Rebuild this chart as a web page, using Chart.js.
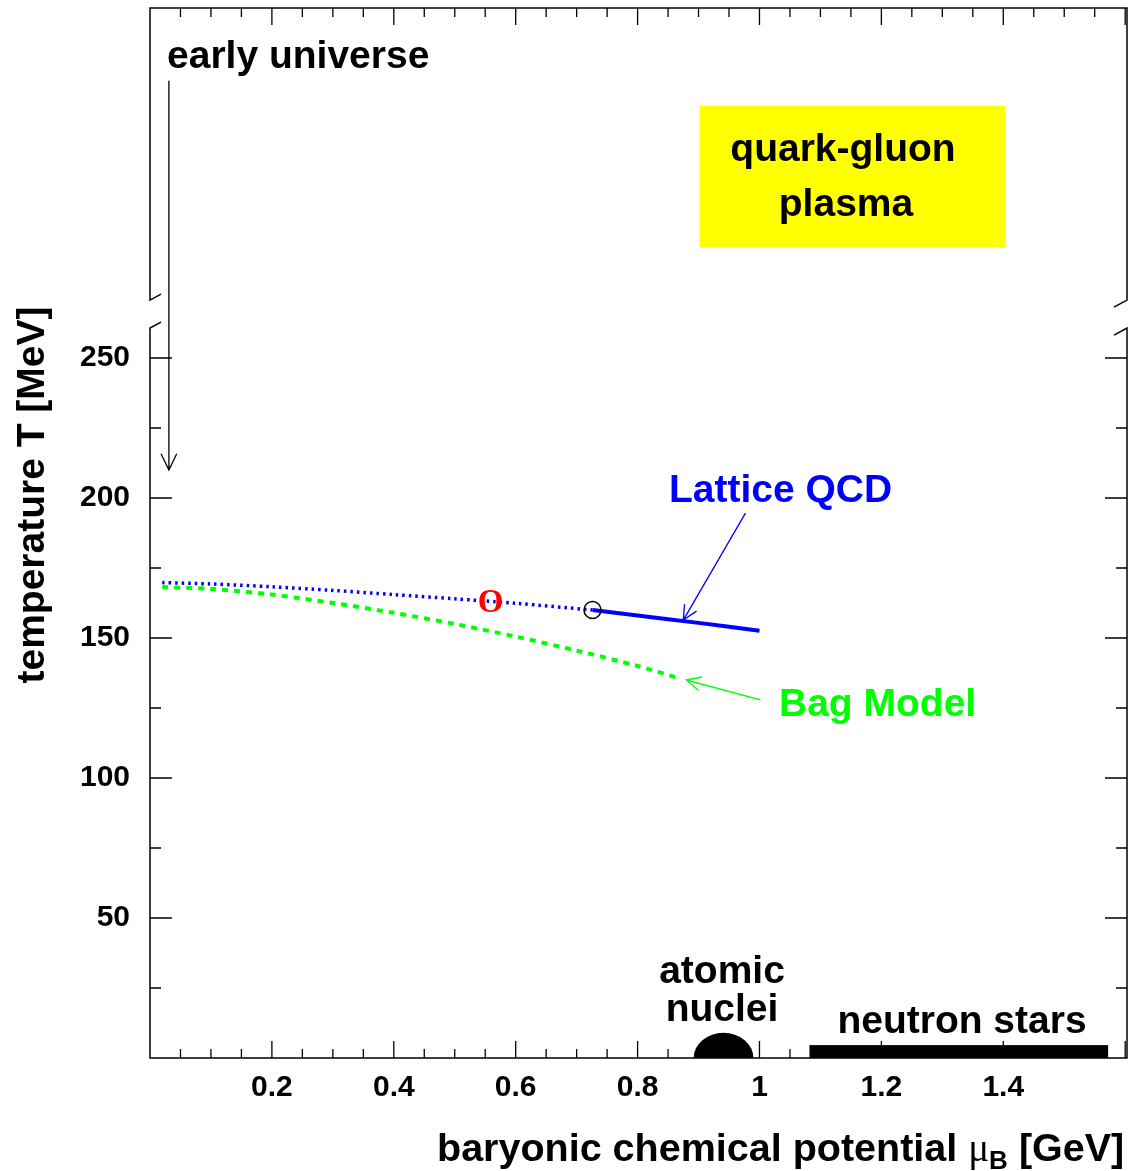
<!DOCTYPE html>
<html>
<head>
<meta charset="utf-8">
<script src="https://cdn.jsdelivr.net/npm/chart.js@4/dist/chart.umd.min.js"></script>
<style>
  html, body { margin: 0; padding: 0; background: #fff; }
  #wrap { width: 1131px; height: 1171px; position: relative; }
</style>
</head>
<body>
<div id="wrap"><canvas id="phaseChart"></canvas></div>
<script>
// phase diagram data (mu in GeV, T in MeV)
const latticeDottedMu = [0.02, 0.1, 0.2, 0.3, 0.4, 0.5, 0.6, 0.726];
const latticeDottedT = [169.8, 169.3, 168.3, 167.0, 165.5, 164.0, 162.4, 160.0];
const latticeSolidMu = [0.726, 0.8, 0.9, 1.0];
const latticeSolidT = [160.0, 158.0, 155.4, 152.6];
const bagMu = [0.02, 0.1, 0.2, 0.3, 0.4, 0.5, 0.6, 0.7, 0.8, 0.867];
const bagT = [168.2, 167.5, 165.5, 162.5, 159.0, 155.0, 150.5, 145.5, 140.0, 135.7];
const criticalPoint = [0.726, 160.0];
const freezeOutPoint = [0.559, 163.6];
const nucleiMu = [0.892, 0.99]; // half-ellipse span
const nucleiHeight = 9;
const neutronMu = [1.082, 1.572];
const neutronHeight = 4.6;
const xTickLabels = [0.2, 0.4, 0.6, 0.8, 1, 1.2, 1.4];
const yTickLabels = [50, 100, 150, 200, 250];

const toXY = (xs, ys) => xs.map((x, i) => ({ x: x, y: ys[i] }));

const FONT = "'Liberation Sans', Arial, Helvetica, sans-serif";

function arrow(ctx, x1, y1, x2, y2, color, head) {
  ctx.save();
  ctx.strokeStyle = color;
  ctx.lineWidth = 1.3;
  ctx.beginPath();
  ctx.moveTo(x1, y1);
  ctx.lineTo(x2, y2);
  const a = Math.atan2(y2 - y1, x2 - x1);
  ctx.moveTo(x2 - head * Math.cos(a - 0.45), y2 - head * Math.sin(a - 0.45));
  ctx.lineTo(x2, y2);
  ctx.lineTo(x2 - head * Math.cos(a + 0.45), y2 - head * Math.sin(a + 0.45));
  ctx.stroke();
  ctx.restore();
}

const decorations = {
  id: "decorations",
  afterDatasetsDraw(chart) {
    const ctx = chart.ctx;
    const xs = chart.scales.x;
    const ys = chart.scales.y;
    const { left, right, top, bottom } = chart.chartArea;
    const X = (v) => xs.getPixelForValue(v);
    const Y = (v) => ys.getPixelForValue(v);

    ctx.save();
    ctx.strokeStyle = "#000";
    ctx.lineWidth = 1.5;
    // frame with axis break
    const bHi = Y(270.7), bLo = Y(260.7);
    ctx.beginPath();
    ctx.moveTo(left + 11, bHi - 6);
    ctx.lineTo(left, bHi);
    ctx.lineTo(left, top);
    ctx.lineTo(right, top);
    ctx.lineTo(right, bHi);
    ctx.lineTo(right - 13, bHi + 7);
    ctx.moveTo(left + 11, bLo - 6);
    ctx.lineTo(left, bLo);
    ctx.lineTo(left, bottom);
    ctx.lineTo(right, bottom);
    ctx.lineTo(right, bLo);
    ctx.lineTo(right - 13, bLo + 7);
    ctx.stroke();

    // ticks
    ctx.lineWidth = 1.3;
    ctx.beginPath();
    for (let i = 1; i * 0.05 < xs.max; i++) {
      const px = X(i * 0.05);
      const len = i % 4 === 0 ? 17 : 9;
      ctx.moveTo(px, top); ctx.lineTo(px, top + len);
      ctx.moveTo(px, bottom); ctx.lineTo(px, bottom - len);
    }
    for (let v = 25; v <= 250; v += 25) {
      const py = Y(v);
      const len = v % 50 === 0 ? 22 : 11;
      ctx.moveTo(left, py); ctx.lineTo(left + len, py);
      ctx.moveTo(right, py); ctx.lineTo(right - len, py);
    }
    ctx.stroke();

    // critical point circle
    ctx.beginPath();
    ctx.lineWidth = 1.5;
    ctx.arc(X(criticalPoint[0]), Y(criticalPoint[1]), 8.5, 0, Math.PI * 2);
    ctx.stroke();

    // freeze-out marker
    ctx.fillStyle = "#ff0000";
    ctx.font = "bold 33px 'Liberation Serif', 'Times New Roman', serif";
    ctx.textAlign = "center";
    ctx.textBaseline = "middle";
    ctx.fillText("O", X(freezeOutPoint[0]), Y(freezeOutPoint[1]) + 4);

    // atomic nuclei half ellipse
    ctx.fillStyle = "#000";
    const cx = (X(nucleiMu[0]) + X(nucleiMu[1])) / 2;
    const rx = (X(nucleiMu[1]) - X(nucleiMu[0])) / 2;
    const ry = Y(0) - Y(nucleiHeight);
    ctx.beginPath();
    ctx.ellipse(cx, Y(0), rx, ry, 0, Math.PI, 2 * Math.PI);
    ctx.closePath();
    ctx.fill();

    // neutron stars bar
    ctx.fillRect(X(neutronMu[0]), Y(neutronHeight), X(neutronMu[1]) - X(neutronMu[0]), Y(0) - Y(neutronHeight));

    // quark-gluon plasma box
    ctx.fillStyle = "#ffff00";
    ctx.fillRect(X(0.9016), Y(340), X(1.403) - X(0.9016), Y(289.6) - Y(340));

    // labels
    ctx.textBaseline = "middle";
    ctx.font = "bold 39px " + FONT;
    ctx.fillStyle = "#000";
    ctx.textAlign = "center";
    ctx.fillText("quark-gluon", 843, 150);
    ctx.fillText("plasma", 846, 205);
    ctx.fillText("atomic", 722, 972);
    ctx.fillText("nuclei", 722, 1010);
    ctx.fillText("neutron stars", 962, 1022);
    ctx.textAlign = "left";
    ctx.fillText("early universe", 167, 57);
    ctx.fillStyle = "#0000ff";
    ctx.fillText("Lattice QCD", 669, 491);
    ctx.fillStyle = "#00ff00";
    ctx.fillText("Bag Model", 779, 705);

    // arrows
    arrow(ctx, X(0.031), Y(349), X(0.031), Y(210), "#000", 18);
    arrow(ctx, X(0.977), Y(194.6), X(0.875), Y(156.4), "#0000ff", 16);
    arrow(ctx, X(1.0016), Y(127.9), X(0.880), Y(135), "#00ff00", 16);

    // axis titles
    ctx.fillStyle = "#000";
    ctx.save();
    ctx.translate(33, 495);
    ctx.rotate(-Math.PI / 2);
    ctx.textAlign = "center";
    ctx.font = "bold 39px " + FONT;
    ctx.fillText("temperature T [MeV]", 0, 0);
    ctx.restore();

    ctx.textAlign = "left";
    ctx.textBaseline = "alphabetic";
    const main = "baryonic chemical potential ";
    ctx.font = "bold 39.5px " + FONT;
    let tx = 437;
    const by = 1161;
    ctx.fillText(main, tx, by);
    tx += ctx.measureText(main).width;
    ctx.font = "39px 'Liberation Serif', serif";
    ctx.fillText("\u03bc", tx, by);
    tx += ctx.measureText("\u03bc").width;
    ctx.font = "bold 26px " + FONT;
    ctx.fillText("B", tx, by + 8);
    tx += ctx.measureText("B").width + 11;
    ctx.font = "bold 39.5px " + FONT;
    ctx.fillText("[GeV]", tx, by);
    ctx.restore();
  },
};

new Chart(document.getElementById("phaseChart"), {
  type: "scatter",
  data: {
    datasets: [
      {
        label: "Lattice QCD (extrapolated)",
        data: toXY(latticeDottedMu, latticeDottedT),
        showLine: true,
        borderColor: "#0000ff",
        borderWidth: 3.5,
        borderDash: [2.5, 4],
        pointRadius: 0,
        tension: 0.3,
      },
      {
        label: "Lattice QCD",
        data: toXY(latticeSolidMu, latticeSolidT),
        showLine: true,
        borderColor: "#0000ff",
        borderWidth: 4,
        pointRadius: 0,
        tension: 0.3,
      },
      {
        label: "Bag Model",
        data: toXY(bagMu, bagT),
        showLine: true,
        borderColor: "#00ff00",
        borderWidth: 4,
        borderDash: [6, 6],
        pointRadius: 0,
        tension: 0.3,
      },
    ],
  },
  options: {
    responsive: true,
    maintainAspectRatio: false,
    animation: false,
    layout: { padding: { left: 0, top: 8, right: 4, bottom: 0 } },
    plugins: {
      legend: { display: false },
      tooltip: { enabled: false },
    },
    scales: {
      x: {
        type: "linear",
        min: 0,
        max: 1.603,
        grid: { display: false },
        border: { display: false },
        afterFit: (s) => { s.height = 113; s.paddingLeft = 0; s.paddingRight = 0; },
        afterBuildTicks: (s) => { s.ticks = xTickLabels.map((v) => ({ value: v })); },
        ticks: {
          autoSkip: false,
          maxRotation: 0,
          padding: 4,
          color: "#000",
          font: { family: FONT, size: 30, weight: "bold" },
          callback: (v) => String(Math.round(v * 10) / 10),
        },
      },
      y: {
        type: "linear",
        min: 0,
        max: 375,
        grid: { display: false },
        border: { display: false },
        afterFit: (s) => { s.width = 150; s.paddingTop = 0; s.paddingBottom = 0; },
        afterBuildTicks: (s) => { s.ticks = yTickLabels.map((v) => ({ value: v })); },
        ticks: {
          autoSkip: false,
          padding: 12,
          color: "#000",
          font: { family: FONT, size: 30, weight: "bold" },
        },
      },
    },
  },
  plugins: [decorations],
});
</script>
</body>
</html>
